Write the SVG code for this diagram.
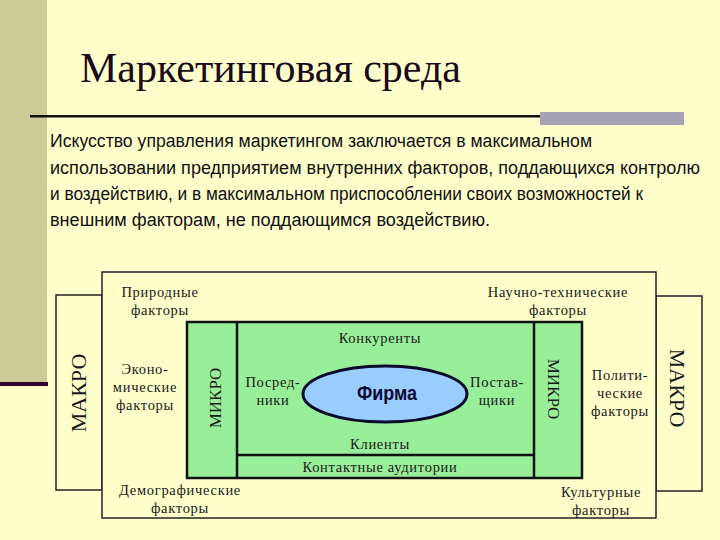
<svg xmlns="http://www.w3.org/2000/svg" width="720" height="540" viewBox="0 0 720 540">
<style>
.bg{fill:#FFFFCC}
.serif{font-family:"Liberation Serif","Times New Roman",serif;fill:#1a1a1a}
.lab{font-size:14.5px;letter-spacing:0.7px;text-anchor:middle}
.box{fill:#FFFFCC;stroke:#222;stroke-width:1.5}
.thick{stroke:#111;stroke-width:2.5;fill:none}
.body{font-family:"Liberation Sans",Arial,sans-serif;font-size:18px;fill:#111}
</style>
<rect class="bg" x="0" y="0" width="720" height="540"/>
<g id="decor">
<rect x="0" y="0" width="47" height="382" fill="#CCCC99"/>
<rect x="0" y="382" width="48" height="4" fill="#330033"/>
<rect x="30" y="115" width="512" height="2.5" fill="#111"/>
<rect x="540" y="112" width="144" height="13" fill="#A6A3B5"/>
</g>
<g id="title">
<text class="serif" x="80" y="82" font-size="42" style="fill:#1a0a1a">Маркетинговая среда</text>
</g>
<g id="body-text" class="body">
<text x="50" y="147" textLength="542" lengthAdjust="spacingAndGlyphs">Искусство управления маркетингом заключается в максимальном</text>
<text x="50" y="174" textLength="650" lengthAdjust="spacingAndGlyphs">использовании предприятием внутренних факторов, поддающихся контролю</text>
<text x="50" y="200" textLength="593" lengthAdjust="spacingAndGlyphs">и воздействию, и в максимальном приспособлении своих возможностей к</text>
<text x="50" y="226" textLength="440" lengthAdjust="spacingAndGlyphs">внешним факторам, не поддающимся воздействию.</text>
</g>
<g id="macro-left">
<rect class="box" x="56" y="295" width="46" height="195"/>
<text class="serif" font-size="22" text-anchor="middle" transform="translate(86,393) rotate(-90)">МАКРО</text>
</g>
<g id="macro-right">
<rect class="box" x="656" y="296" width="46" height="195"/>
<text class="serif" font-size="22" text-anchor="middle" transform="translate(670,388) rotate(90)">МАКРО</text>
</g>
<g id="outer">
<rect class="box" x="102" y="272" width="554" height="246"/>
</g>
<g id="micro">
<rect x="187" y="322" width="395" height="156" fill="#99EE99" stroke="#111" stroke-width="2.5"/>
</g>
<g id="connectors">
<line class="thick" x1="237" y1="322" x2="237" y2="478"/>
<line class="thick" x1="534" y1="322" x2="534" y2="478"/>
<line class="thick" x1="237" y1="455" x2="534" y2="455"/>
</g>
<g id="micro-left-label">
<text class="serif" font-size="17" text-anchor="middle" transform="translate(221,398) rotate(-90)">МИКРО</text>
</g>
<g id="micro-right-label">
<text class="serif" font-size="17" text-anchor="middle" transform="translate(548,389) rotate(90)">МИКРО</text>
</g>
<g id="firm">
<ellipse cx="385" cy="394" rx="82" ry="28" fill="#99CCFF" stroke="#0a0a2a" stroke-width="3"/>
<text x="387" y="400" font-family="'Liberation Sans Narrow','Liberation Sans',Arial,sans-serif" font-weight="bold" font-size="21" text-anchor="middle" fill="#0a0a33" textLength="60" lengthAdjust="spacingAndGlyphs">Фирма</text>
</g>
<g id="competitors"><text class="serif lab" x="380" y="343">Конкуренты</text></g>
<g id="intermediaries"><text class="serif lab" x="273" y="387">Посред-</text><text class="serif lab" x="273" y="405">ники</text></g>
<g id="suppliers"><text class="serif lab" x="497" y="387">Постав-</text><text class="serif lab" x="497" y="405">щики</text></g>
<g id="clients"><text class="serif lab" x="380" y="449">Клиенты</text></g>
<g id="contact"><text class="serif lab" x="380" y="472">Контактные аудитории</text></g>
<g id="natural"><text class="serif lab" x="160" y="297">Природные</text><text class="serif lab" x="160" y="315">факторы</text></g>
<g id="scitech"><text class="serif lab" x="558" y="297">Научно-технические</text><text class="serif lab" x="558" y="315">факторы</text></g>
<g id="economic"><text class="serif lab" x="145" y="374">Эконо-</text><text class="serif lab" x="145" y="392">мические</text><text class="serif lab" x="145" y="410">факторы</text></g>
<g id="political"><text class="serif lab" x="620" y="380">Полити-</text><text class="serif lab" x="620" y="398">ческие</text><text class="serif lab" x="620" y="416">факторы</text></g>
<g id="demographic"><text class="serif lab" x="180" y="495">Демографические</text><text class="serif lab" x="180" y="513">факторы</text></g>
<g id="cultural"><text class="serif lab" x="601" y="497">Культурные</text><text class="serif lab" x="601" y="515">факторы</text></g>
</svg>
